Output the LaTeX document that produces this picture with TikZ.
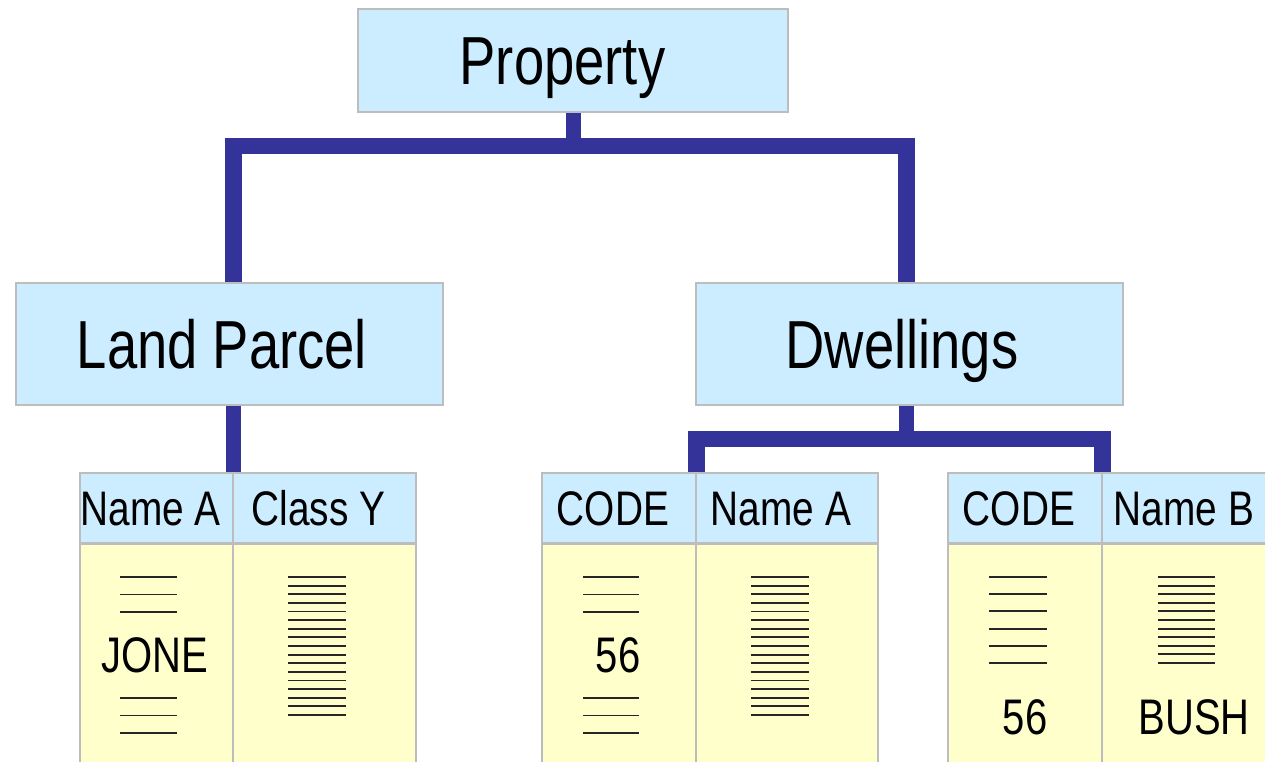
\documentclass[tikz,border=0pt]{standalone}
\usepackage{fontspec}
\newfontfamily\narrowsans[FakeStretch=0.8]{Liberation Sans}
\usetikzlibrary{backgrounds}
\definecolor{hdrblue}{HTML}{CCECFF}
\definecolor{cellyellow}{HTML}{FFFFCC}
\definecolor{edgegray}{HTML}{BDBDBD}
\definecolor{linkblue}{HTML}{333399}
\tikzset{
  entity/.style={draw=edgegray, line width=1.2pt, fill=hdrblue, inner sep=0pt,
    font={\narrowsans\fontsize{68}{80}\selectfont}, text height=48.7pt, text depth=0pt,
    execute at begin node={\hspace*{-15pt}}},
  colhead/.style={draw=edgegray, line width=1.2pt, fill=hdrblue, inner sep=0pt,
    minimum height=70pt, font={\narrowsans\fontsize{48.5}{58}\selectfont},
    text height=34.7pt, text depth=0pt, execute at begin node={\hspace*{-12pt}}},
  colbody/.style={draw=edgegray, line width=1.2pt, fill=cellyellow, inner sep=0pt,
    minimum height=247pt},
  celltext/.style={inner sep=0pt, font={\narrowsans\fontsize{50}{60}\selectfont},
    text height=35.8pt, text depth=0pt},
  link/.style={draw=linkblue, line width=16.5pt, line join=miter, line cap=butt},
  rule/.style={draw=black!85, line width=1.9pt}
}
\begin{document}
\begin{tikzpicture}[x=1pt,y=-1pt]
\useasboundingbox (0,0) rectangle (1265,761);
\clip (0,0) rectangle (1265,761);

% hierarchy boxes
\node[entity, minimum width=430pt, minimum height=103pt,
      execute at begin node={\hspace*{-6pt}}] (prop) at (573,60.5) {Property};
\node[entity, minimum width=427pt, minimum height=122pt] (lp) at (229.5,344) {Land Parcel};
\node[entity, minimum width=427pt, minimum height=122pt] (dw) at (909.5,344) {Dwellings};

% table 1
\node[colhead, minimum width=153pt] (t1a) at (156.5,508) {Name A};
\node[colhead, minimum width=183pt] (t1b) at (324.5,508) {Class Y};
\node[colbody, minimum width=153pt, anchor=north] (t1c) at (t1a.south) {};
\node[colbody, minimum width=183pt, anchor=north] (t1d) at (t1b.south) {};

% table 2
\node[colhead, minimum width=154pt] (t2a) at (619,508) {CODE};
\node[colhead, minimum width=182pt] (t2b) at (787,508) {Name A};
\node[colbody, minimum width=154pt, anchor=north] (t2c) at (t2a.south) {};
\node[colbody, minimum width=182pt, anchor=north] (t2d) at (t2b.south) {};

% table 3
\node[colhead, minimum width=154pt] (t3a) at (1025,508) {CODE};
\node[colhead, minimum width=176pt] (t3b) at (1190,508) {Name B};
\node[colbody, minimum width=154pt, anchor=north] (t3c) at (t3a.south) {};
\node[colbody, minimum width=176pt, anchor=north] (t3d) at (t3b.south) {};

% connectors
\begin{scope}[on background layer]
  \draw[link] ([xshift=4pt]lp.north) -- ([xshift=4pt]lp.north |- 0,146)
              -- ([xshift=-3pt]dw.north |- 0,146) -- ([xshift=-3pt]dw.north);
  \draw[link, line width=15pt] (prop.south) -- (prop.south |- 0,146);
  \draw[link, line width=15pt] (lp.south -| t1a.east) -- (t1a.north east);
  \draw[link, line width=15pt] ([xshift=-3pt]dw.south) -- ([xshift=-3pt]dw.south |- 0,439);
  \draw[link] (t2a.north east) -- (t2a.north east |- 0,439)
              -- (t3a.north east |- 0,439) -- (t3a.north east);
\end{scope}

% cell contents
\node[celltext] (jone) at (155,655) {JONE};
\node[celltext] (codea) at (618,655) {56};
\node[celltext] (codeb) at (1025,717) {56};
\node[celltext] (bush) at (1194,717) {BUSH};

\foreach \y in {577,594.5,612,698,715.5,733} {
  \draw[rule] (120,\y) -- (177,\y);
  \draw[rule] (583,\y) -- (639,\y);
}
\foreach \i in {0,...,16} {
  \draw[rule] (288,{577+8.625*\i}) -- (346,{577+8.625*\i});
  \draw[rule] (751,{577+8.625*\i}) -- (809,{577+8.625*\i});
}
\foreach \i in {0,...,5}
  \draw[rule] (989,{577+17.2*\i}) -- (1047,{577+17.2*\i});
\foreach \i in {0,...,10}
  \draw[rule] (1158,{577+8.6*\i}) -- (1215,{577+8.6*\i});
\end{tikzpicture}
\end{document}
